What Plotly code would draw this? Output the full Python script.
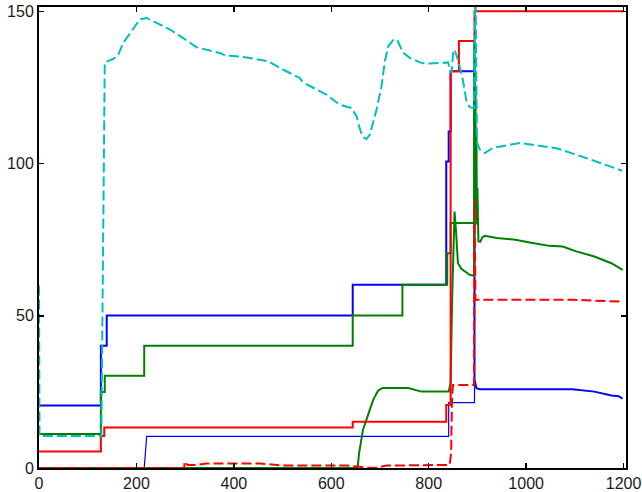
import plotly.graph_objects as go

# ---------------- data ----------------
# thick blue: step changes then decay
blue_step_t = [0, 127, 139, 644, 836, 841, 845]
blue_step_v = [20.5, 40.2, 50.1, 60.2, 100.7, 110.6, 130.4]
blue_step_end = 894
blue_tail_x = [894, 896, 898, 905, 1000, 1095, 1140, 1175, 1190, 1198]
blue_tail_y = [29.0, 28.0, 26.2, 25.9, 25.9, 25.9, 25.1, 23.8, 23.6, 22.8]

# thin blue
thinblue_x = [0, 216, 221, 841, 841, 894, 894]
thinblue_y = [0, 0, 10.4, 10.4, 21.5, 21.5, 28.5]

# green steps
green_step_t = [0, 127, 135, 216, 644, 746, 838, 845]
green_step_v = [11.2, 25.0, 30.3, 40.2, 50.1, 60.2, 70.6, 80.5]
green_step_end = 894
green_step_last = 140.0

# green curve
greenc_x = [0, 654, 657, 662, 665, 672, 679, 686, 696, 705, 758, 785, 841, 845, 848, 851, 853,
            856, 860, 867, 874, 884, 893, 894, 895, 896, 897, 898, 899, 900, 902, 906, 910, 915,
            940, 978, 1010, 1048, 1075, 1103, 1140, 1175, 1198]
greenc_y = [0, 0, 4.8, 9.2, 12.5, 15.8, 19.1, 22.4, 25.4, 26.3, 26.3, 25.1, 25.1, 28, 55, 80, 84.3,
            78, 67.3, 65.5, 64.6, 63.5, 63.2, 140, 95, 125, 85, 110, 80, 92, 74.5, 74.4, 75.8, 76.3,
            75.6, 75.0, 74.0, 73.0, 72.8, 71.2, 69.5, 67.3, 65.1]

# red steps
red_step_t = [0, 127, 134, 644, 836, 845, 862, 894]
red_step_v = [5.4, 10.5, 13.3, 15.2, 20.7, 130.4, 140.3, 150.1]
red_step_end = 1200

# red dashed
redd_x = [0, 298, 299, 305, 323, 344, 399, 453, 501, 631, 658, 672, 693, 713, 843, 846, 847, 848,
          850, 893, 894, 896, 1000, 1095, 1140, 1198]
redd_y = [0, 0, 2.1, 1.0, 1.0, 1.5, 1.5, 1.5, 0.8, 0.8, 0.4, 0.1, 0.1, 0.8, 1.0, 5, 15, 24,
          27.3, 27.3, 88, 55.3, 55.3, 55.3, 55.0, 54.7]

# cyan dashed
cyan_x = [0, 1, 128, 131, 133, 135, 152, 163, 173, 187, 207, 221, 241, 269, 296, 323, 330, 371,
          382, 419, 470, 494, 535, 542, 590, 617, 641, 652, 657, 664, 672, 679, 693, 703, 710, 717,
          727, 735, 747, 761, 782, 792, 840, 843, 847, 850, 853, 860, 870, 877, 884, 893, 896, 899,
          905, 915, 932, 987, 1062, 1123, 1197]
cyan_y = [60, 10.5, 10.5, 60, 100, 133.3, 134.4, 135.9, 139.7, 143, 147.4, 147.9, 146.3, 144.1,
          141.3, 138.3, 138, 136.4, 135.6, 135.1, 133.7, 131.5, 128.2, 126.7, 122.7, 119.4, 118.3,
          115.6, 112.3, 109, 108.1, 109.5, 117.8, 125.4, 133.7, 138.6, 140.6, 140.8, 136.6, 134.8,
          133.3, 132.9, 133.3, 130.9, 129.8, 136.4, 137.5, 134.2, 127.6, 121, 118.6, 118.3, 160,
          107, 104.6, 103.5, 105.2, 106.8, 105.1, 101.9, 97.7]

x_ticks = [0, 200, 400, 600, 800, 1000, 1200]
y_ticks = [0, 50, 100, 150]


def stairs(t, v, end):
    xs, ys = [], []
    for i, (ti, vi) in enumerate(zip(t, v)):
        if i > 0:
            xs.append(ti)
            ys.append(v[i - 1])
        xs.append(ti)
        ys.append(vi)
    xs.append(end)
    ys.append(v[-1])
    return xs, ys


bx, by = stairs(blue_step_t, blue_step_v, blue_step_end)
bx += blue_tail_x
by += blue_tail_y

gx, gy = stairs(green_step_t, green_step_v, green_step_end)
gx += [green_step_end]
gy += [green_step_last]

rx, ry = stairs(red_step_t, red_step_v, red_step_end)

BLUE = "#0000FF"
GREEN = "#008000"
RED = "#FF0000"
CYAN = "#00BFBF"

fig = go.Figure()
fig.add_trace(go.Scatter(x=bx, y=by, mode="lines", line=dict(color=BLUE, width=2)))
fig.add_trace(go.Scatter(x=thinblue_x, y=thinblue_y, mode="lines", line=dict(color=BLUE, width=1.2)))
fig.add_trace(go.Scatter(x=gx, y=gy, mode="lines", line=dict(color=GREEN, width=2)))
fig.add_trace(go.Scatter(x=greenc_x, y=greenc_y, mode="lines", line=dict(color=GREEN, width=2)))
fig.add_trace(go.Scatter(x=redd_x, y=redd_y, mode="lines",
                         line=dict(color=RED, width=2, dash="10px,4px")))
fig.add_trace(go.Scatter(x=rx, y=ry, mode="lines", line=dict(color=RED, width=2)))
fig.add_trace(go.Scatter(x=cyan_x, y=cyan_y, mode="lines",
                         line=dict(color=CYAN, width=2, dash="10px,4px")))

axis_common = dict(
    showline=True, linecolor="black", linewidth=2, mirror="ticks",
    ticks="inside", ticklen=5, tickwidth=1.5, tickcolor="black",
    showgrid=False, zeroline=False,
    tickfont=dict(family="Liberation Sans, Arial, sans-serif", size=16, color="#1a1a1a"),
)

fig.update_layout(
    width=642, height=492,
    margin=dict(l=39, r=16, t=7, b=24, autoexpand=False),
    plot_bgcolor="white", paper_bgcolor="white",
    showlegend=False,
    hovermode=False,
    xaxis=dict(range=[0, 1205], tickvals=x_ticks, **axis_common),
    yaxis=dict(range=[0, 151.5], tickvals=y_ticks, **axis_common),
)

fig.write_html(
    "out.html",
    config={"displayModeBar": False, "staticPlot": True},
    post_script="document.body.style.margin='0';document.body.style.overflow='hidden';",
)
